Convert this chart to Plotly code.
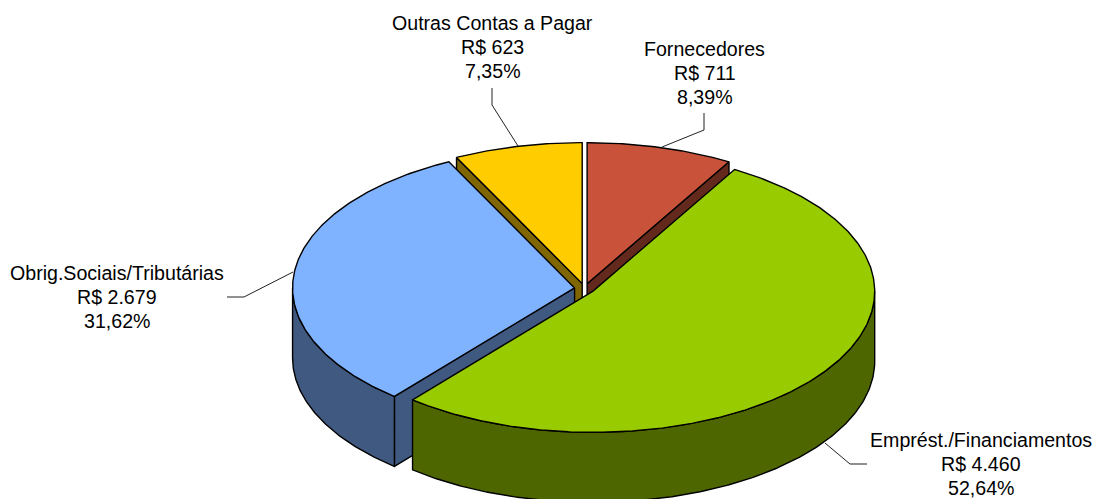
import numpy as np
import plotly.graph_objects as go

categories = ["Fornecedores", "Emprést./Financiamentos", "Obrig.Sociais/Tributárias", "Outras Contas a Pagar"]
values = [711, 4460, 2679, 623]
top_colors = ["#C9533A", "#99CC00", "#80B3FF", "#FFCC00"]
wall_colors = ["#64291D", "#4D6600", "#405980", "#806600"]

# pie geometry, in pixels of the 1095x499 canvas
CX, CY = 584.5, 288.5
RX, RY = 282, 141
DEPTH = 70
PULL = 10

total = sum(values)
edges = np.concatenate([[0], np.cumsum(values)]) / total * 360


def br_number(v):
    return f"{v:,}".replace(",", ".")


def rim(cx, cy, t0, t1, dy=0):
    t = np.radians(np.linspace(t0, t1, max(int(abs(t1 - t0)) * 2, 2)))
    return cx + RX * np.sin(t), cy - RY * np.cos(t) + dy


def poly(fig, xs, ys, color):
    fig.add_trace(go.Scatter(x=xs, y=ys, mode="lines", fill="toself", fillcolor=color,
                             line=dict(color="black", width=1.4), hoverinfo="skip", showlegend=False))


def draw_slice(fig, i):
    t0, t1 = edges[i], edges[i + 1]
    mid = np.radians((t0 + t1) / 2)
    cx = CX + PULL * np.sin(mid)
    cy = CY - PULL * 0.5 * np.cos(mid)

    # cut faces, only the ones turned towards the viewer
    cuts = []
    if np.sin(np.radians(t0)) < -1e-6:
        cuts.append(t0)
    if np.sin(np.radians(t1)) > 1e-6:
        cuts.append(t1)
    for t in cuts:
        ex = cx + RX * np.sin(np.radians(t))
        ey = cy - RY * np.cos(np.radians(t))
        poly(fig, [cx, ex, ex, cx, cx], [cy, ey, ey + DEPTH, cy + DEPTH, cy], wall_colors[i])

    # outer wall, front half only
    a, b = max(t0, 90), min(t1, 270)
    if a < b:
        ax, ay = rim(cx, cy, a, b)
        bx, by = rim(cx, cy, b, a, DEPTH)
        poly(fig, list(ax) + list(bx) + [ax[0]], list(ay) + list(by) + [ay[0]], wall_colors[i])

    # top face
    rx_, ry_ = rim(cx, cy, t0, t1)
    poly(fig, [cx] + list(rx_) + [cx], [cy] + list(ry_) + [cy], top_colors[i])


fig = go.Figure()

# back slices first so the front ones overlap them
for i in [3, 0, 2, 1]:
    draw_slice(fig, i)

# middle line of each label block
label_pos = [(704.5, 72.5), (981, 464), (117, 296.5), (492.5, 47)]
LINE_STEP = 24
for i, name in enumerate(categories):
    pct = f"{values[i] / total * 100:.2f}".replace(".", ",")
    lines = [name, f"R$ {br_number(values[i])}", f"{pct}%"]
    for k, line in enumerate(lines):
        fig.add_annotation(x=label_pos[i][0], y=label_pos[i][1] + (k - 1) * LINE_STEP,
                           showarrow=False, align="center", text=line,
                           font=dict(family="Liberation Sans", size=19.6, color="black"))

leaders = ["M 704 113 L 704 130 L 662 147",
           "M 825 443 L 850 464 L 867 464",
           "M 227 297 L 244 297 L 293 272",
           "M 492 88 L 492 105 L 518 146"]
for path in leaders:
    fig.add_shape(type="path", path=path, line=dict(color="#222222", width=1))

fig.update_xaxes(range=[0, 1095], visible=False)
fig.update_yaxes(range=[499, 0], visible=False)
fig.update_layout(width=1095, height=499, margin=dict(l=0, r=0, t=0, b=0),
                  paper_bgcolor="white", plot_bgcolor="white", showlegend=False)

fig.write_html("out.html", config=dict(displayModeBar=False), post_script="document.body.style.margin='0';")
